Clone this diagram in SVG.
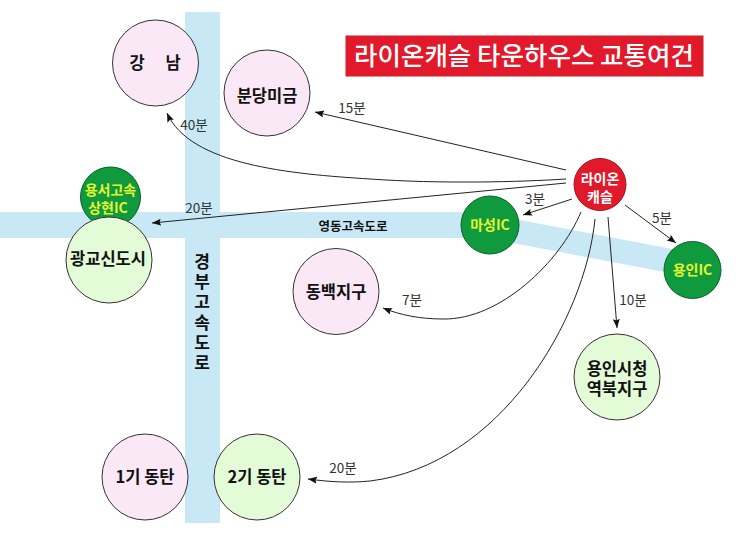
<svg xmlns="http://www.w3.org/2000/svg" width="740" height="539" viewBox="0 0 740 539">
<style>
text{font-family:"Noto Sans CJK KR","Noto Sans",sans-serif;text-anchor:middle}
.n{font-size:16.5px;font-weight:700;fill:#111}
.t{font-size:13.5px;fill:#333}
.y{font-size:14px;font-weight:700;fill:#e6f52e}
.w{font-size:14px;font-weight:700;fill:#fff}
.r{font-size:17px;font-weight:700;fill:#111}
.c{stroke:#333;stroke-width:1}
.p{fill:#fbe8f6}.g{fill:#e4fbd8}
.d{fill:#0f9a3e;stroke:#0b5f2a;stroke-width:1}
.k{fill:none;stroke:#222;stroke-width:1;marker-end:url(#a)}
</style>
<defs><marker id="a" markerUnits="userSpaceOnUse" markerWidth="10" markerHeight="8" refX="9" refY="3.500" orient="auto"><path d="M0 0L9 3.500L0 7L1.500 3.500Z" fill="#111"/></marker></defs>
<rect width="740" height="539" fill="#fff"/>
<g id="roads" fill="#c9e8f6">
<rect x="185" y="12" width="35" height="511"/>
<path d="M0 212H450C480 212 500 215 520 220L680 250.500V275L513 243C490 239 470 238 450 238H0Z"/>
</g>
<g id="road-labels">
<text class="r"><tspan x="202" y="268">경</tspan><tspan x="202" y="288">부</tspan><tspan x="202" y="308">고</tspan><tspan x="202" y="329">속</tspan><tspan x="202" y="349">도</tspan><tspan x="202" y="369">로</tspan></text>
<text x="353" y="231" font-size="12.5" font-weight="700" fill="#111">영동고속도로</text>
</g>
<g id="connectors">
<path class="k" d="M566 170L315 112"/>
<path class="k" d="M566 179C520 182 440 184 370 179C290 174 190 165 167 113"/>
<path class="k" d="M566 183L152 223"/>
<path class="k" d="M572 199L523 215"/>
<path class="k" d="M625 205L676 243"/>
<path class="k" d="M581 212C560 262 500 320 443 319C420 319 400 315 383 308"/>
<path class="k" d="M595 219C585 320 500 465 370 481C350 483 330 482 308 479"/>
<path class="k" d="M608 217L617 328"/>
</g>
<g id="time-labels">
<text class="t" x="352" y="113">15분</text>
<text class="t" x="194" y="130">40분</text>
<text class="t" x="199" y="213">20분</text>
<text class="t" x="535" y="204">3분</text>
<text class="t" x="662" y="223">5분</text>
<text class="t" x="412" y="305">7분</text>
<text class="t" x="633" y="305">10분</text>
<text class="t" x="343" y="473">20분</text>
</g>
<g id="title"><rect x="346" y="36" width="357" height="40" fill="#e2182b" stroke="#c9242f"/><text x="524" y="65" font-size="25.500" font-weight="500" fill="#fff">라이온캐슬 타운하우스 교통여건</text></g>
<g id="gangnam"><circle class="c p" cx="155.500" cy="63" r="43"/><text class="n"><tspan x="137" y="69">강</tspan><tspan x="173" y="69">남</tspan></text></g>
<g id="bundang"><circle class="c p" cx="267" cy="93" r="43"/><text class="n" x="267" y="102">분당미금</text></g>
<g id="sanghyeon-ic"><circle class="d" cx="110.500" cy="197" r="30"/><text class="y" x="110.500" y="195">용서고속</text><text class="y" x="108" y="213">상현IC</text></g>
<g id="gwanggyo"><circle class="c g" cx="109" cy="260" r="43"/><text class="n" x="108" y="265">광교신도시</text></g>
<g id="dongbaek"><circle class="c p" cx="336" cy="291.500" r="43"/><text class="n" x="336" y="298">동백지구</text></g>
<g id="dongtan1"><circle class="c p" cx="145" cy="477" r="43"/><text class="n" x="145" y="483">1기 동탄</text></g>
<g id="dongtan2"><circle class="c g" cx="257" cy="477" r="43"/><text class="n" x="257" y="483">2기 동탄</text></g>
<g id="yonginsi"><circle class="c g" cx="617" cy="377" r="43"/><text class="n" x="617" y="375">용인시청</text><text class="n" x="617" y="395">역북지구</text></g>
<g id="lion"><circle cx="600" cy="184.500" r="26" fill="#e2182b" stroke="#a81523"/><text class="w" x="600" y="184">라이온</text><text class="w" x="600" y="202">캐슬</text></g>
<g id="maseong-ic"><circle class="d" cx="490" cy="225" r="29"/><text class="y" x="490" y="230">마성IC</text></g>
<g id="yongin-ic"><circle class="d" cx="692.500" cy="270" r="28.500"/><text class="y" x="692.500" y="275">용인IC</text></g>
</svg>
